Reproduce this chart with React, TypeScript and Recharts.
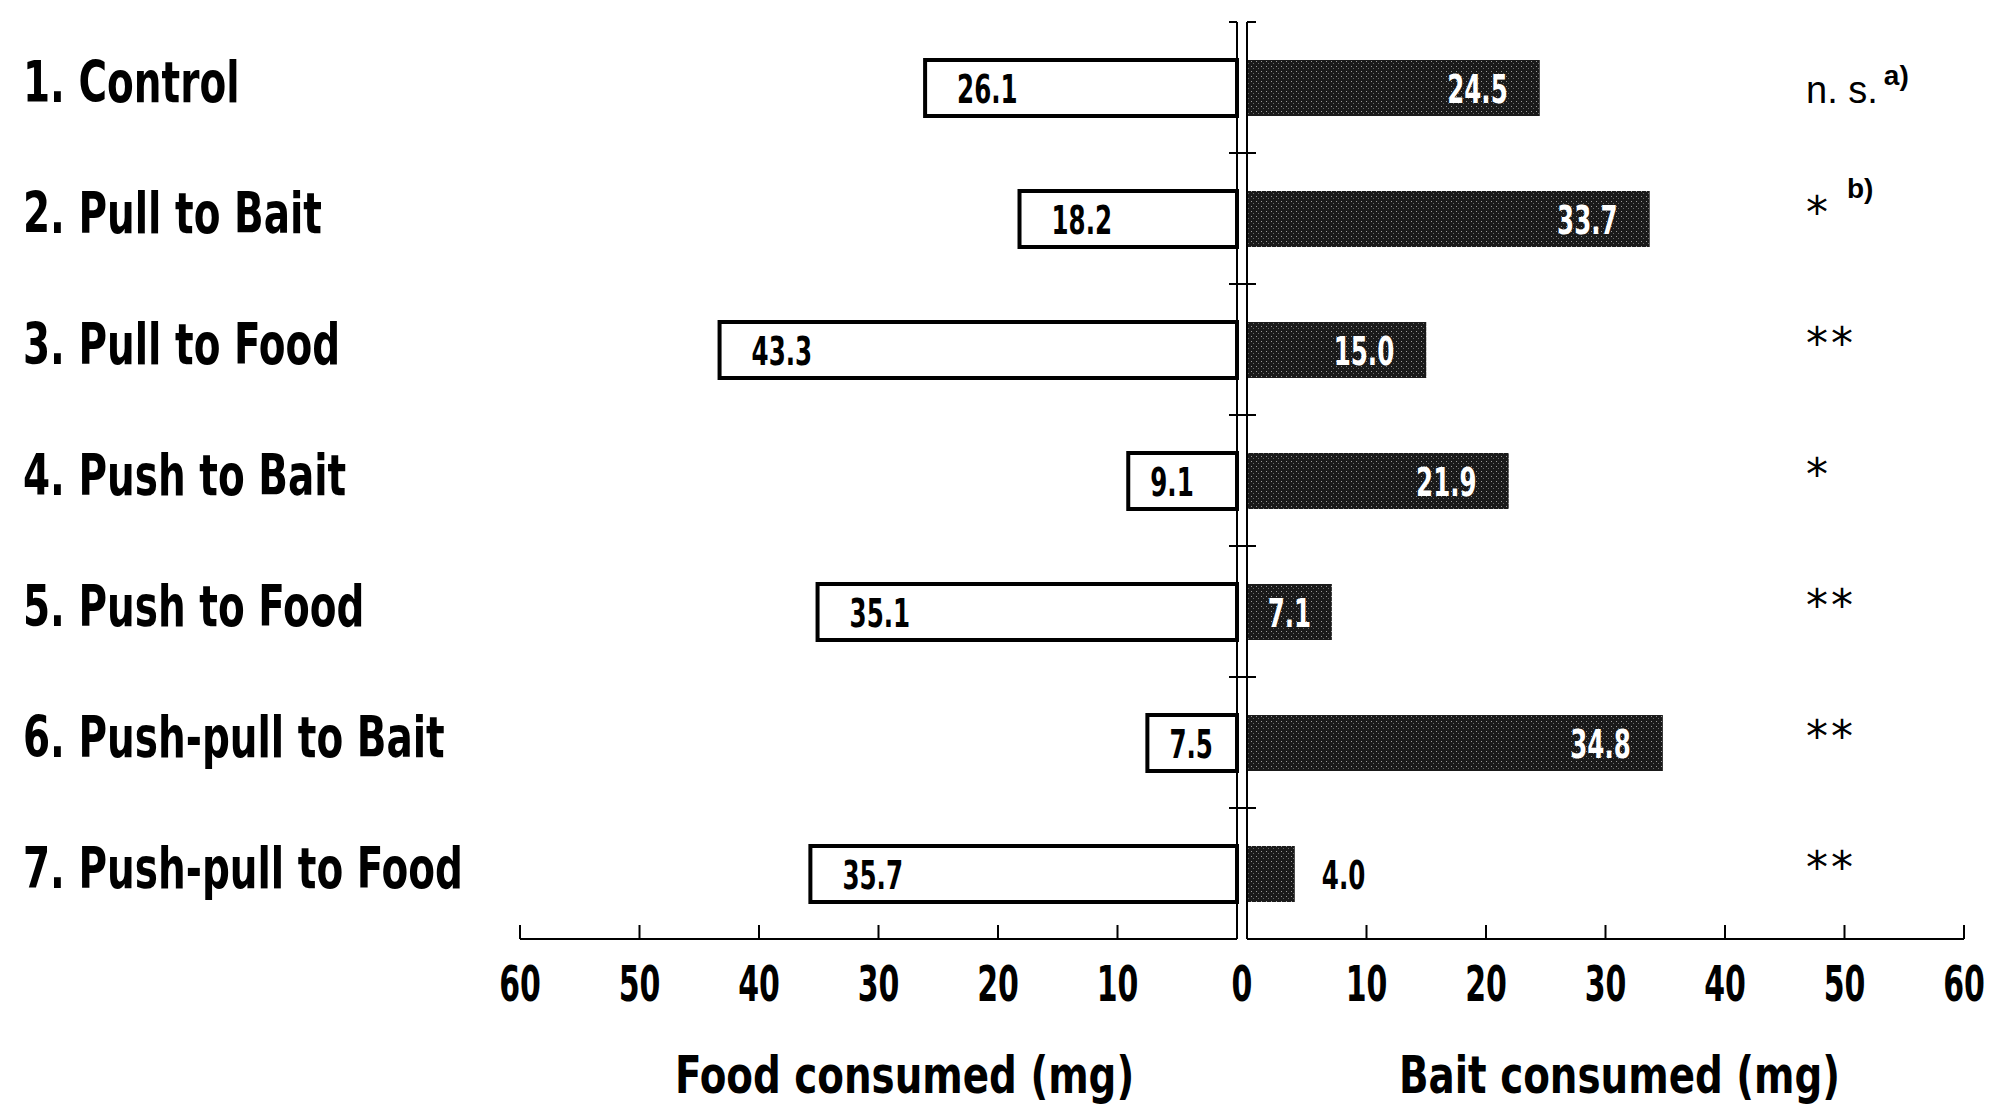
import React from 'react';
import { BarChart, Bar, XAxis, YAxis, ReferenceLine, LabelList } from 'recharts';

// treatments, top to bottom
const categories = [
  '1. Control',
  '2. Pull to Bait',
  '3. Pull to Food',
  '4. Push to Bait',
  '5. Push to Food',
  '6. Push-pull to Bait',
  '7. Push-pull to Food',
];

// mg consumed
const foodConsumed = [26.1, 18.2, 43.3, 9.1, 35.1, 7.5, 35.7];
const baitConsumed = [24.5, 33.7, 15.0, 21.9, 7.1, 34.8, 4.0];

// significance marks + footnote letters
const significance = ['n. s.', '*', '**', '*', '**', '**', '**'];
const footnotes = ['a)', 'b)', '', '', '', '', ''];

const axisTicks = [0, 10, 20, 30, 40, 50, 60];

const data = categories.map((name, i) => ({
  name,
  food: foodConsumed[i],
  bait: baitConsumed[i],
  sig: significance[i],
}));

const HEAVY = '"DejaVu Sans Condensed", "DejaVu Sans", sans-serif';
const LIGHT = '"Liberation Sans", Arial, sans-serif';

const CHART_H = 1104;
const TOP = 22;
const X_AXIS_H = 165;
const BAR_SIZE = 56;
const LABEL_X = 23;
const RIGHT_LEFT = 1200; // right chart overlaps left one so the cross ticks fit
const SIG_X = 606; // significance column, in right chart coords

const box = (props: any) => {
  const vb = props.viewBox && props.viewBox.width !== undefined ? props.viewBox : props;
  return { x: vb.x, y: vb.y, width: vb.width, height: vb.height };
};

// bold text squeezed horizontally, the original uses a very condensed face
function Narrow({ x, y, sx, size, anchor = 'start', fill = '#000', children }: any) {
  return (
    <text
      transform={`translate(${x},${y}) scale(${sx},1)`}
      x={0}
      y={0}
      textAnchor={anchor}
      fontFamily={HEAVY}
      fontWeight="bold"
      fontSize={size}
      fill={fill}
    >
      {children}
    </text>
  );
}

function AxisTick(props: any) {
  const { x, y, payload, side } = props;
  const isZero = payload.value === 0;
  return (
    <g>
      <line x1={x} y1={y} x2={x} y2={y - 14} stroke="#000" strokeWidth={2} />
      {isZero && side === 'food' ? null : (
        <Narrow x={isZero ? x - 5 : x} y={y + 62} sx={0.68} size={49} anchor="middle">
          {payload.value}
        </Narrow>
      )}
    </g>
  );
}

function CategoryTick(props: any) {
  const { y, payload } = props;
  return (
    <Narrow x={LABEL_X} y={y + 14} sx={0.76} size={57}>
      {payload.value}
    </Narrow>
  );
}

// little cross marks between the groups on the centre lines
function BoundaryTick(props: any) {
  const { x, y, payload, index } = props;
  const half = payload && typeof payload.offset === 'number' ? payload.offset : (CHART_H - TOP - X_AXIS_H) / 14;
  const by = y - half;
  if (index === 0) {
    return (
      <g>
        <line x1={x - 18} y1={by} x2={x - 10} y2={by} stroke="#000" strokeWidth={2} />
        <line x1={x} y1={by} x2={x + 9} y2={by} stroke="#000" strokeWidth={2} />
      </g>
    );
  }
  return <line x1={x - 18} y1={by} x2={x + 9} y2={by} stroke="#000" strokeWidth={2} />;
}

function AxisTitle(props: any) {
  const { viewBox, text, shift } = props;
  if (!viewBox) return null;
  return (
    <Narrow x={viewBox.x + viewBox.width / 2 + shift} y={viewBox.y + 154} sx={0.83} size={52} anchor="middle">
      {text}
    </Narrow>
  );
}

function FoodLabel(props: any) {
  const { x, y, width, height } = box(props);
  const left = Math.min(x, x + width);
  const w = Math.abs(width);
  const pad = w > 150 ? 32 : 22;
  return (
    <Narrow x={left + pad} y={y + height / 2 + 15} sx={0.7} size={39}>
      {Number(props.value).toFixed(1)}
    </Narrow>
  );
}

function BaitLabel(props: any) {
  const { x, y, width, height } = box(props);
  const cy = y + height / 2 + 15;
  const txt = Number(props.value).toFixed(1);
  if (width < 60) {
    return (
      <Narrow x={x + width + 27} y={cy} sx={0.7} size={39}>
        {txt}
      </Narrow>
    );
  }
  if (width < 110) {
    return (
      <Narrow x={x + width / 2} y={cy} sx={0.7} size={39} anchor="middle" fill="#fff">
        {txt}
      </Narrow>
    );
  }
  return (
    <Narrow x={x + width - 32} y={cy} sx={0.7} size={39} anchor="end" fill="#fff">
      {txt}
    </Narrow>
  );
}

function SigLabel(props: any) {
  const { y, height } = box(props);
  const i = props.index;
  const cy = y + height / 2;
  const mark = String(props.value);
  const note = footnotes[i];
  if (mark.startsWith('n')) {
    return (
      <text x={SIG_X} y={cy + 15} fontFamily={LIGHT} fontSize={38} fill="#000">
        {mark}
        <tspan dx={6} dy={-18} fontSize={28} fontWeight="bold">{note}</tspan>
      </text>
    );
  }
  return (
    <text x={SIG_X} y={cy + 9} fontFamily='"DejaVu Sans", sans-serif' fontSize={44} letterSpacing={3} fill="#000">
      {mark}
      {note ? (
        <tspan dx={16} dy={-30} fontFamily={LIGHT} fontSize={28} fontWeight="bold" letterSpacing={0}>
          {note}
        </tspan>
      ) : null}
    </text>
  );
}

export default function App() {
  return (
    <div style={{ position: 'absolute', left: 0, top: 0, width: 1989, height: CHART_H, background: '#fff' }}>
      {/* food side */}
      <div style={{ position: 'absolute', left: 0, top: 0 }}>
        <BarChart
          layout="vertical"
          width={1242}
          height={CHART_H}
          data={data}
          margin={{ top: TOP, right: 5, bottom: 0, left: 0 }}
        >
          <XAxis
            type="number"
            domain={[0, 60]}
            ticks={axisTicks}
            interval={0}
            reversed
            height={X_AXIS_H}
            tickSize={0}
            tickMargin={0}
            tickLine={false}
            axisLine={{ stroke: '#000', strokeWidth: 2 }}
            tick={<AxisTick side="food" />}
            label={<AxisTitle text="Food consumed (mg)" shift={26} />}
          />
          <YAxis
            type="category"
            dataKey="name"
            width={520}
            interval={0}
            axisLine={false}
            tickLine={false}
            tickSize={0}
            tickMargin={0}
            tick={<CategoryTick />}
          />
          <Bar dataKey="food" fill="#fff" stroke="#000" strokeWidth={4} barSize={BAR_SIZE} isAnimationActive={false}>
            <LabelList dataKey="food" content={FoodLabel} />
          </Bar>
          <ReferenceLine x={0} stroke="#000" strokeWidth={2} />
        </BarChart>
      </div>

      {/* bait side */}
      <div style={{ position: 'absolute', left: RIGHT_LEFT, top: 0 }}>
        <BarChart
          layout="vertical"
          width={1989 - RIGHT_LEFT}
          height={CHART_H}
          data={data}
          margin={{ top: TOP, right: 25, bottom: 0, left: 0 }}
        >
          <defs>
            <pattern id="stipple" width="5" height="5" patternUnits="userSpaceOnUse">
              <rect width="5" height="5" fill="#1a1a1a" />
              <rect x="1" y="1" width="1" height="1" fill="#9a9a9a" />
              <rect x="3" y="3" width="1" height="1" fill="#6a6a6a" />
            </pattern>
          </defs>
          <XAxis
            type="number"
            domain={[0, 60]}
            ticks={axisTicks}
            interval={0}
            height={X_AXIS_H}
            tickSize={0}
            tickMargin={0}
            tickLine={false}
            axisLine={{ stroke: '#000', strokeWidth: 2 }}
            tick={<AxisTick side="bait" />}
            label={<AxisTitle text="Bait consumed (mg)" shift={14} />}
          />
          <YAxis
            type="category"
            dataKey="name"
            width={47}
            interval={0}
            axisLine={{ stroke: '#000', strokeWidth: 2 }}
            tickLine={false}
            tickSize={0}
            tickMargin={0}
            tick={<BoundaryTick />}
          />
          <Bar dataKey="bait" fill="url(#stipple)" barSize={BAR_SIZE} isAnimationActive={false}>
            <LabelList dataKey="bait" content={BaitLabel} />
            <LabelList dataKey="sig" content={SigLabel} />
          </Bar>
        </BarChart>
      </div>
    </div>
  );
}
